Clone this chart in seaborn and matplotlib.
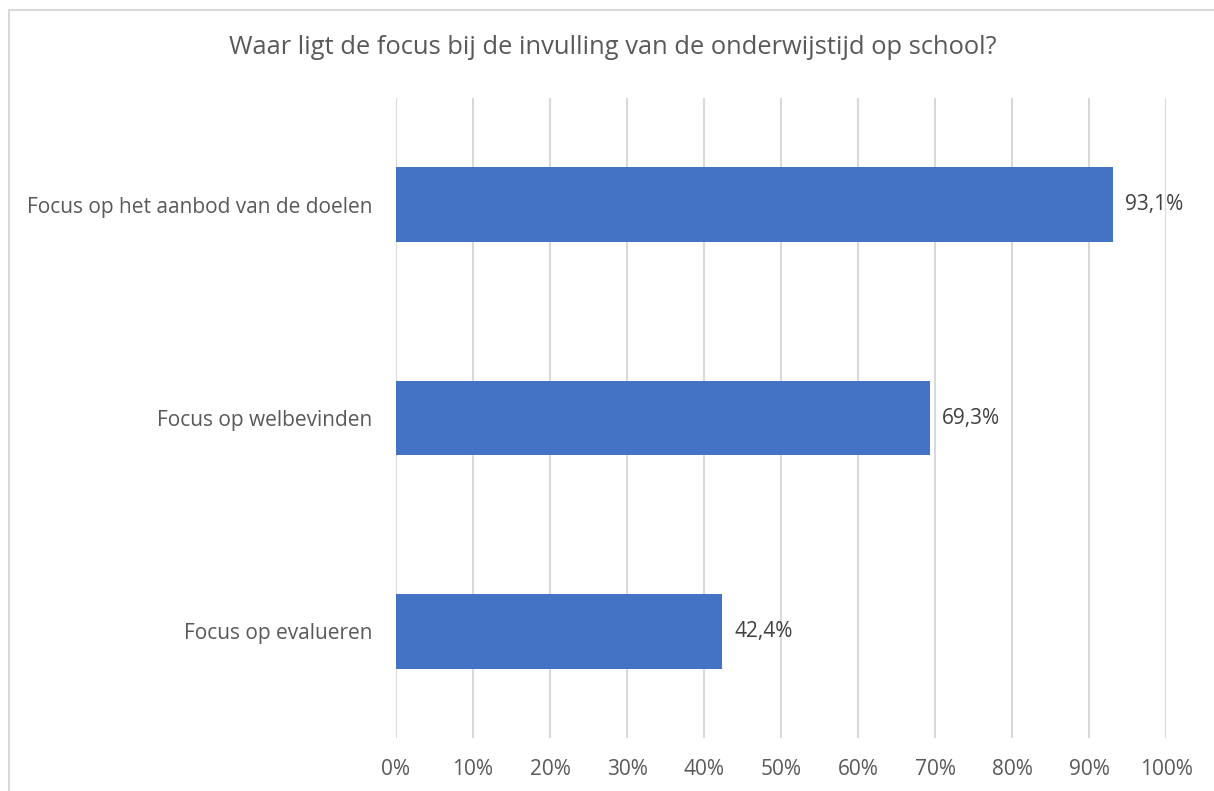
import matplotlib
matplotlib.use('Agg')
import pandas as pd
import seaborn as sns
import matplotlib.pyplot as plt
from matplotlib.lines import Line2D
from matplotlib.ticker import MultipleLocator, FuncFormatter

# data
categories = ['Focus op het aanbod van de doelen', 'Focus op welbevinden', 'Focus op evalueren']
values = [93.1, 69.3, 42.4]
title = 'Waar ligt de focus bij de invulling van de onderwijstijd op school?'

df = pd.DataFrame({'Categorie': categories, 'Percentage': values})

sns.set_style('white')
plt.rcParams['font.family'] = ['Open Sans', 'DejaVu Sans']

text_col = '#595959'
grid_col = '#D9D9D9'

fig = plt.figure(figsize=(12.14, 7.91), dpi=100)
ax = fig.add_axes([396 / 1214, 1 - 738 / 791, 770 / 1214, 640 / 791])

sns.barplot(data=df, y='Categorie', x='Percentage', color='#4472C4',
            width=0.35, saturation=1, linewidth=0, ax=ax, zorder=3)

ax.set_xlim(0, 100)
ax.xaxis.set_major_locator(MultipleLocator(10))
ax.xaxis.set_major_formatter(FuncFormatter(lambda v, p: f'{v:.0f}%'))
ax.grid(axis='x', color=grid_col, linewidth=1.5, zorder=0)
ax.grid(axis='y', visible=False)
for s in ax.spines.values():
    s.set_visible(False)
ax.tick_params(axis='y', length=0, colors=text_col, labelsize=15, pad=17)
ax.tick_params(axis='x', length=0, colors=text_col, labelsize=15, pad=15)
ax.set_xlabel('')
ax.set_ylabel('')

for i, v in enumerate(values):
    ax.text(v + 1.6, i, f'{v:.1f}%'.replace('.', ','), va='center', ha='left',
            color='#404040', fontsize=15)

fig.text(613 / 1214, 1 - 47 / 791, title, ha='center', va='center',
         color=text_col, fontsize=18.4)

# chart border (top and left visible)
fig.add_artist(Line2D([9 / 1214, 1.0], [1 - 10 / 791, 1 - 10 / 791],
                      transform=fig.transFigure, color=grid_col, linewidth=1.5))
fig.add_artist(Line2D([9 / 1214, 9 / 1214], [0, 1 - 10 / 791],
                      transform=fig.transFigure, color=grid_col, linewidth=1.5))

fig.savefig('out.png', dpi=100, facecolor='white')
